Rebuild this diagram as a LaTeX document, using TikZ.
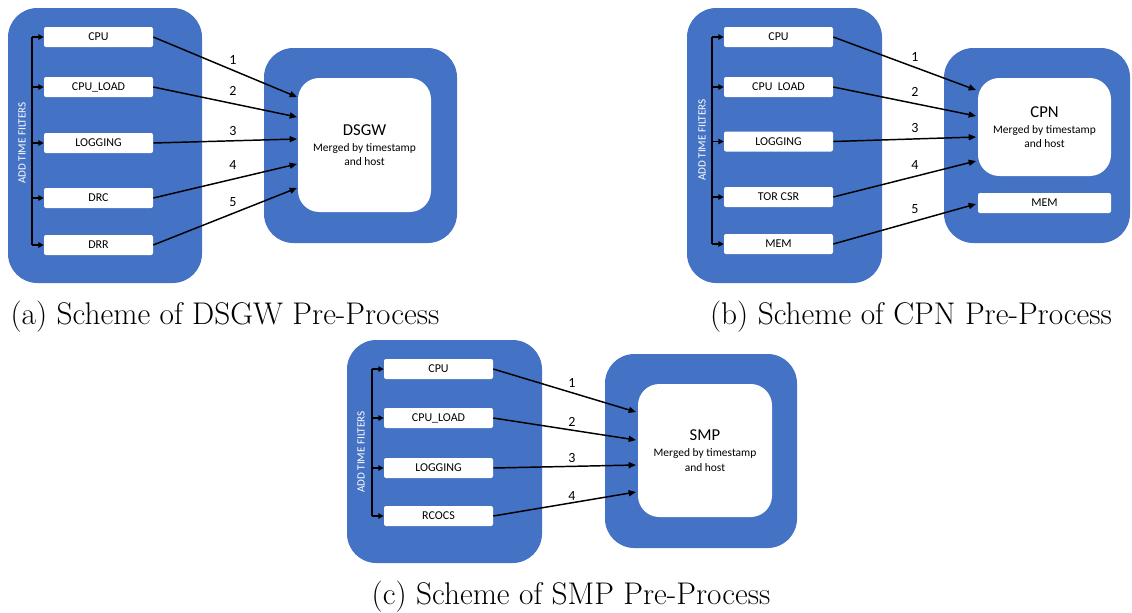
\documentclass[tikz,border=0pt]{standalone}
\usepackage{fontspec}
\newfontfamily\boxfont{Carlito}
\usetikzlibrary{arrows.meta}
\definecolor{panelblue}{HTML}{4472C4}
\tikzset{
  container/.style={fill=panelblue, draw=none, rounded corners=22pt, inner sep=0pt},
  srcbox/.style={fill=white, draw=none, rounded corners=1.5pt, minimum width=81.75pt,
    minimum height=15pt, inner sep=0pt, font=\boxfont\fontsize{9}{10}\selectfont},
  mergebox/.style={fill=white, draw=none, rounded corners=16pt, inner sep=0pt, align=center,
    font=\boxfont\fontsize{8.6}{11}\selectfont},
  feed/.style={line width=1.1pt, -{Triangle[length=5.5pt,width=4.5pt]}},
  bus/.style={line width=1.5pt},
  tap/.style={line width=1.3pt, -{Triangle[length=4pt,width=4pt]}},
  num/.style={font=\boxfont\fontsize{10.5}{12}\selectfont},
  filters/.style={rotate=90, text=white, font=\boxfont\fontsize{8.3}{10}\selectfont},
  caption/.style={font=\fontsize{23.5}{28}\selectfont}
}
\begin{document}
\begin{tikzpicture}[x=0.75pt,y=-0.75pt]
\useasboundingbox (0,0) rectangle (1132,612);

% ---------------- (a) DSGW ----------------
\node[container, minimum width=145.5pt, minimum height=206.25pt] (aL) at (105,145.5) {};
\node[container, minimum width=144.75pt, minimum height=146.25pt] (aR) at (360.5,145.5) {};
\node[mergebox, minimum width=99.75pt, minimum height=100.5pt] (aM) at (364.5,145)
  {{\fontsize{12.5}{15}\selectfont DSGW}\\[1pt]Merged by timestamp\\and host};
\node[srcbox] (a1) at (98.5,37) {CPU};
\node[srcbox] (a2) at (98.5,87) {CPU\_LOAD};
\node[srcbox] (a3) at (98.5,143) {LOGGING};
\node[srcbox] (a4) at (98.5,198) {DRC};
\node[srcbox] (a5) at (98.5,245) {DRR};
\node[filters] (aF) at (22,143) {ADD TIME FILTERS};
\coordinate (aBt) at (32,37);
\coordinate (aBb) at (32,245);
\draw[bus] (aBt) -- (aBb);
\foreach \i in {1,...,5} { \draw[tap] (aBt |- a\i.west) -- (a\i.west); }
\coordinate (ae1) at (297,97);
\coordinate (ae2) at (297,117);
\coordinate (ae3) at (297,139);
\coordinate (ae4) at (297,164);
\coordinate (ae5) at (297,188);
\foreach \i in {1,...,5} { \draw[feed] (a\i.east) -- (ae\i); }
\node[num] (an1) at (233,60) {1};
\node[num] (an2) at (233,91) {2};
\node[num] (an3) at (233,131) {3};
\node[num] (an4) at (233,165) {4};
\node[num] (an5) at (233,202) {5};
\node[caption] (capA) at (225,317) {(a) Scheme of DSGW Pre-Process};

% ---------------- (b) CPN ----------------
\node[container, minimum width=146.25pt, minimum height=206.25pt] (bL) at (784.5,145.5) {};
\node[container, minimum width=139.5pt, minimum height=146.25pt] (bR) at (1037,145.5) {};
\node[mergebox, minimum width=99.75pt, minimum height=73.5pt] (bM) at (1044.5,127)
  {{\fontsize{12.5}{15}\selectfont CPN}\\[1pt]Merged by timestamp\\and host};
\node[srcbox, minimum width=99.75pt] (bMem) at (1044.5,203) {MEM};
\node[srcbox] (b1) at (778.5,37) {CPU};
\node[srcbox] (b2) at (778.5,87) {CPU\ \ LOAD};
\node[srcbox] (b3) at (778.5,141.5) {LOGGING};
\node[srcbox] (b4) at (778.5,197) {TOR CSR};
\node[srcbox] (b5) at (778.5,244) {MEM};
\node[filters] (bF) at (702,140) {ADD TIME FILTERS};
\coordinate (bBt) at (712,37);
\coordinate (bBb) at (712,244);
\draw[bus] (bBt) -- (bBb);
\foreach \i in {1,...,5} { \draw[tap] (bBt |- b\i.west) -- (b\i.west); }
\coordinate (be1) at (976,90);
\coordinate (be2) at (976,116);
\coordinate (be3) at (976,137);
\coordinate (be4) at (976,161);
\coordinate (be5) at (976,204);
\foreach \i in {1,...,5} { \draw[feed] (b\i.east) -- (be\i); }
\node[num] (bn1) at (915,57) {1};
\node[num] (bn2) at (915,92) {2};
\node[num] (bn3) at (915,128) {3};
\node[num] (bn4) at (915,165) {4};
\node[num] (bn5) at (915,209) {5};
\node[caption] (capB) at (911,317) {(b) Scheme of CPN Pre-Process};

% ---------------- (c) SMP ----------------
\node[container, minimum width=146.25pt, minimum height=167.25pt] (cL) at (444.5,451.5) {};
\node[container, minimum width=144pt, minimum height=145.5pt] (cR) at (701,451) {};
\node[mergebox, minimum width=100.5pt, minimum height=99.75pt] (cM) at (705,450.5)
  {{\fontsize{12.5}{15}\selectfont SMP}\\[1pt]Merged by timestamp\\and host};
\node[srcbox] (c1) at (438.5,369) {CPU};
\node[srcbox] (c2) at (438.5,418) {CPU\_LOAD};
\node[srcbox] (c3) at (438.5,468) {LOGGING};
\node[srcbox] (c4) at (438.5,516) {RCOCS};
\node[filters] (cF) at (361,452) {ADD TIME FILTERS};
\coordinate (cBt) at (372,369);
\coordinate (cBb) at (372,516);
\draw[bus] (cBt) -- (cBb);
\foreach \i in {1,...,4} { \draw[tap] (cBt |- c\i.west) -- (c\i.west); }
\coordinate (ce1) at (636,412);
\coordinate (ce2) at (636,440);
\coordinate (ce3) at (636,465);
\coordinate (ce4) at (636,492);
\foreach \i in {1,...,4} { \draw[feed] (c\i.east) -- (ce\i); }
\node[num] (cn1) at (572,383) {1};
\node[num] (cn2) at (572,422) {2};
\node[num] (cn3) at (572,458) {3};
\node[num] (cn4) at (572,496) {4};
\node[caption] (capC) at (571,597) {(c) Scheme of SMP Pre-Process};
\end{tikzpicture}
\end{document}
